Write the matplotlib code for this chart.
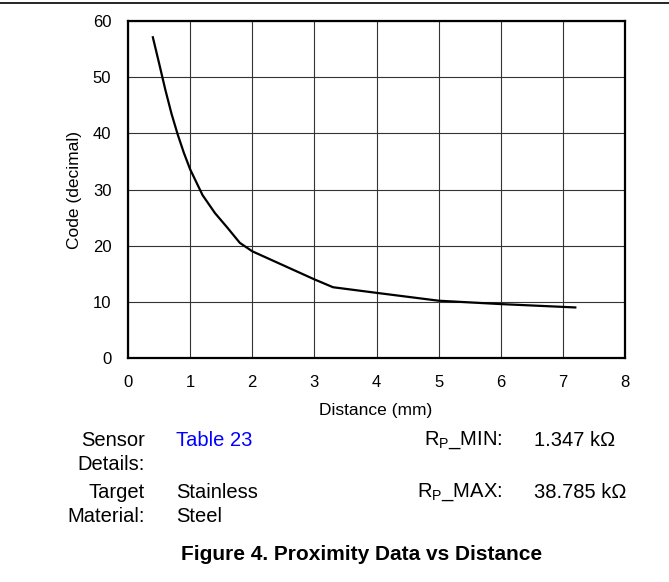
import matplotlib
matplotlib.use("Agg")
import matplotlib.pyplot as plt
from matplotlib.lines import Line2D

plt.rcParams['font.family'] = ['Liberation Sans', 'DejaVu Sans']
plt.rcParams['mathtext.fontset'] = 'custom'
plt.rcParams['mathtext.rm'] = 'Liberation Sans'

# Dane
odleglosc = [0.4, 0.5, 0.6, 0.7, 0.8, 0.9, 1.0, 1.2, 1.4, 1.6, 1.8, 2.0,
             2.5, 3.0, 3.3, 4.0, 5.0, 6.0, 7.2]
kod = [57.1, 52.5, 47.8, 43.5, 39.8, 36.5, 33.6, 29.0, 25.8, 23.2, 20.5, 19.0,
       16.5, 14.0, 12.6, 11.6, 10.2, 9.6, 9.0]

x_ticks = [0, 1, 2, 3, 4, 5, 6, 7, 8]
y_ticks = [0, 10, 20, 30, 40, 50, 60]

W, H = 669, 582
fig = plt.figure(figsize=(W / 100, H / 100), dpi=100)
ax = fig.add_axes([128 / W, 1 - 358 / H, (625 - 128) / W, (358 - 21) / H])

ax.plot(odleglosc, kod, color='black', lw=1.6, zorder=3)
ax.set_xlim(0, 8)
ax.set_ylim(0, 60)
ax.set_xticks(x_ticks)
ax.set_yticks(y_ticks)
ax.grid(True, color='#333333', lw=0.8)
ax.tick_params(length=0, pad=12, labelsize=12)
for s in ax.spines.values():
    s.set_linewidth(1.6)
    s.set_zorder(4)

fig.text(376 / W, 1 - 410 / H, 'Distance (mm)', ha='center', va='center', fontsize=12.5)
fig.text(75 / W, 1 - 190 / H, 'Code (decimal)', ha='center', va='center',
         rotation=90, fontsize=12.5)

# Linia u góry
fig.add_artist(Line2D([0, 1], [1 - 3 / H, 1 - 3 / H], color='black', lw=1.2))

def tekst(x, y, s, ha='left', **kw):
    fig.text(x / W, 1 - y / H, s, ha=ha, va='center', fontsize=14.5, **kw)

tekst(145, 440, 'Sensor', ha='right')
tekst(145, 465, 'Details:', ha='right')
tekst(145, 492, 'Target', ha='right')
tekst(145, 517, 'Material:', ha='right')
tekst(176, 440, 'Table 23', color='#0000ff')
tekst(176, 492, 'Stainless')
tekst(176, 517, 'Steel')
tekst(502, 440, r'R$_{\mathrm{P}}$_MIN:', ha='right')
tekst(502, 492, r'R$_{\mathrm{P}}$_MAX:', ha='right')
tekst(534, 440, '1.347 k\u03a9')
tekst(534, 492, '38.785 k\u03a9')

fig.text(362 / W, 1 - 555 / H, 'Figure 4. Proximity Data vs Distance',
         ha='center', va='center', fontsize=15, fontweight='bold')

fig.savefig('out.png', dpi=100)
